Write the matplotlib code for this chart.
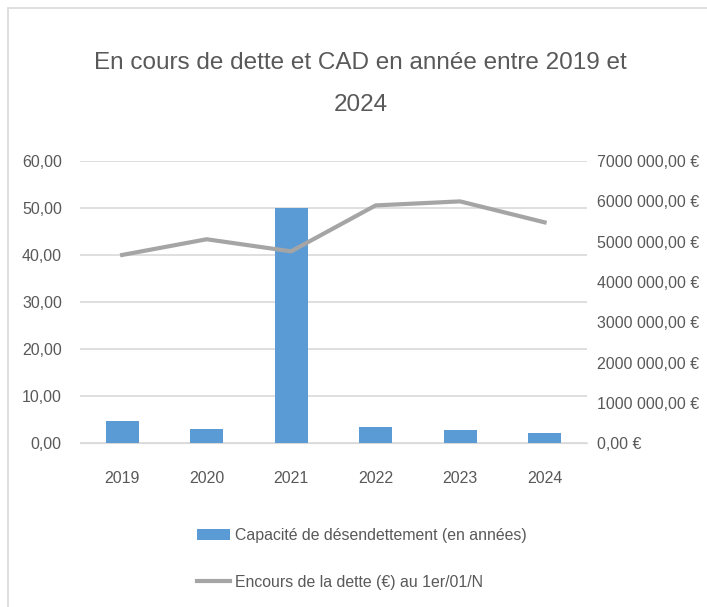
import matplotlib.pyplot as plt
from matplotlib.patches import Rectangle
from matplotlib.ticker import FuncFormatter

plt.rcParams['font.family'] = ['Liberation Sans', 'DejaVu Sans']

annees = ["2019", "2020", "2021", "2022", "2023", "2024"]
capacite = [4.8, 3.0, 50.1, 3.4, 2.7, 2.2]
encours = [4670000, 5060000, 4760000, 5900000, 6000000, 5480000]

gris_texte = "#595959"

fig = plt.figure(figsize=(7.07, 6.07), dpi=100)
ax = fig.add_axes([0.113, 0.270, 0.717, 0.4646])
ax2 = ax.twinx()

x = range(len(annees))
ax.bar(x, capacite, width=0.39, color="#5b9bd5", zorder=3,
       label="Capacité de désendettement (en années)")
ax2.plot(x, encours, color="#a5a5a5", linewidth=3, zorder=4,
         label="Encours de la dette (€) au 1er/01/N")

ax.set_xlim(-0.5, len(annees) - 0.5)
ax.set_ylim(0, 60)
ax.set_yticks(range(0, 61, 10))
ax.yaxis.set_major_formatter(FuncFormatter(lambda v, p: f"{v:.2f}".replace(".", ",")))
ax.set_xticks(list(x))
ax.set_xticklabels(annees)
ax.grid(axis="y", color="#d9d9d9", linewidth=1.2, zorder=0)

ax2.set_ylim(0, 7000000)
ax2.set_yticks(range(0, 7000001, 1000000))


def euro(v, p):
    v = int(round(v))
    if v == 0:
        return "0,00 €"
    return f"{v // 1000} {v % 1000:03d},00 €"


ax2.yaxis.set_major_formatter(FuncFormatter(euro))

for a in (ax, ax2):
    for s in a.spines.values():
        s.set_visible(False)
ax.spines["bottom"].set_visible(True)
ax.spines["bottom"].set_color("#d9d9d9")
ax.tick_params(axis="y", length=0, pad=13, labelsize=11.5, labelcolor=gris_texte)
ax.tick_params(axis="x", length=0, pad=20, labelsize=11.5, labelcolor=gris_texte)
ax2.tick_params(axis="y", length=0, pad=7, labelsize=11.5, labelcolor=gris_texte)

fig.text(0.51, 0.862, "En cours de dette et CAD en année entre 2019 et\n2024",
         ha="center", va="center", fontsize=17.5, color=gris_texte, linespacing=2.15)

h1, l1 = ax.get_legend_handles_labels()
h2, l2 = ax2.get_legend_handles_labels()
fig.legend(h1 + h2, l1 + l2, loc="upper left", bbox_to_anchor=(0.267, 0.143),
           frameon=False, fontsize=11.4, labelcolor=gris_texte, labelspacing=2.0,
           handlelength=2.1, handletextpad=0.35, borderpad=0)

fig.patches.append(Rectangle((0.012, -0.1), 1.2, 1.087, transform=fig.transFigure,
                             fill=False, edgecolor="#d9d9d9", linewidth=1.2))

fig.savefig("out.png", dpi=100)
